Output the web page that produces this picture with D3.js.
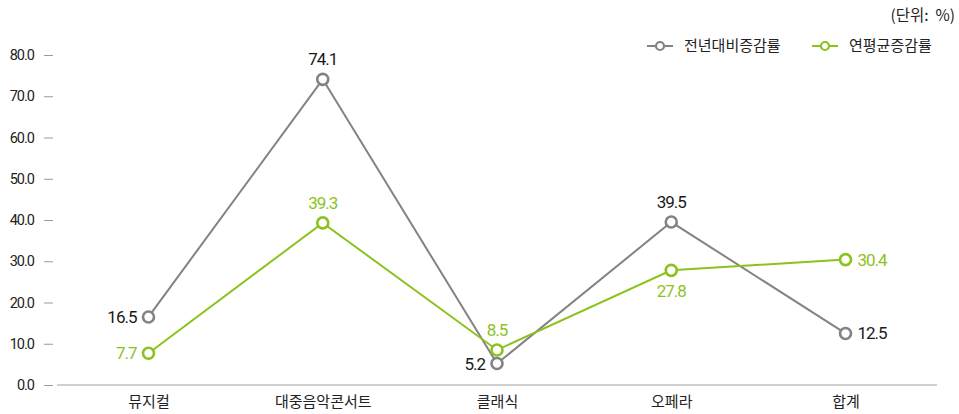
<!DOCTYPE html>
<html>
<head>
<meta charset="utf-8">
<script src="https://cdn.jsdelivr.net/npm/d3@7"></script>
<style>
  html, body { margin: 0; padding: 0; background: #fff; }
  svg text { font-family: "Roboto", "Noto Sans CJK KR", sans-serif; }
  .kr { font-family: "Noto Sans CJK KR", "Noto Sans", sans-serif; }
</style>
</head>
<body>
<svg id="chart" width="959" height="414"></svg>
<script>
// Categories and series
const categories = ["뮤지컬", "대중음악콘서트", "클래식", "오페라", "합계"];
const yoyChange = [16.5, 74.1, 5.2, 39.5, 12.5];      // 전년대비증감률
const cagrChange = [7.7, 39.3, 8.5, 27.8, 30.4];      // 연평균증감률
const seriesNames = ["전년대비증감률", "연평균증감률"];
const yTicks = [0, 10, 20, 30, 40, 50, 60, 70, 80];
const unitLabel = "(단위:  %)";

// Label placement per point: which side the value sits on
const yoyLabelPos = ["left", "top", "left", "top", "right"];
const cagrLabelPos = ["left", "top", "top", "bottom", "right"];

const GRAY = "#838383";
const GREEN = "#8cc21e";

const svg = d3.select("#chart");

const x = d3.scalePoint().domain(categories).range([57, 937]).padding(0.525);
const y = d3.scaleLinear().domain([0, 80]).range([385, 55]);

// y axis: labels with short dashes, no domain line
const yAxis = svg.append("g").attr("transform", "translate(53,0)")
  .call(d3.axisLeft(y).tickValues(yTicks).tickFormat(d3.format(".1f")).tickSize(9).tickPadding(10));
yAxis.select(".domain").remove();
yAxis.selectAll(".tick line").attr("stroke", "#9a9a9a").attr("stroke-width", 1);
yAxis.selectAll(".tick text")
  .attr("fill", "#222").style("font-size", "14.5px")
  .style("font-family", "Roboto, sans-serif").attr("letter-spacing", "-1");

// x baseline and category labels
const xAxis = svg.append("g").attr("transform", "translate(0,385)")
  .call(d3.axisBottom(x).tickSize(0).tickPadding(11));
xAxis.select(".domain").attr("d", "M57,0H937").attr("stroke", "#a0a0a0").attr("stroke-width", 1);
xAxis.selectAll(".tick text")
  .attr("class", "kr").attr("fill", "#222").style("font-size", "15px")
  .style("font-family", "'Noto Sans CJK KR', sans-serif");

const line = d3.line().x((d, i) => x(categories[i])).y(d => y(d));

function drawSeries(values, color, labelColor, positions) {
  const g = svg.append("g");
  g.append("path").datum(values)
    .attr("d", line).attr("fill", "none")
    .attr("stroke", color).attr("stroke-width", 2);
  g.selectAll("circle").data(values).join("circle")
    .attr("cx", (d, i) => x(categories[i])).attr("cy", d => y(d))
    .attr("r", 5.5).attr("fill", "#fff")
    .attr("stroke", color).attr("stroke-width", 2.6);
  g.selectAll("text").data(values).join("text")
    .attr("x", (d, i) => {
      const cx = x(categories[i]);
      const p = positions[i];
      return p === "left" ? cx - 12 : p === "right" ? cx + 12 : cx;
    })
    .attr("y", (d, i) => {
      const cy = y(d);
      const p = positions[i];
      return p === "top" ? cy - 14 : p === "bottom" ? cy + 27 : cy + 6;
    })
    .attr("text-anchor", (d, i) => positions[i] === "left" ? "end" : positions[i] === "right" ? "start" : "middle")
    .attr("fill", labelColor)
    .style("font-size", "17px").attr("letter-spacing", "-1")
    .text(d => d3.format(".1f")(d));
}

drawSeries(yoyChange, GRAY, "#1a1a1a", yoyLabelPos);
drawSeries(cagrChange, GREEN, GREEN, cagrLabelPos);

// Legend
const legend = svg.append("g");
const legendItems = [
  { name: seriesNames[0], color: GRAY, x: 647 },
  { name: seriesNames[1], color: GREEN, x: 812 }
];
legendItems.forEach(it => {
  const lg = legend.append("g").attr("transform", `translate(${it.x},46)`);
  lg.append("line").attr("x1", 0).attr("x2", 26).attr("y1", 0).attr("y2", 0)
    .attr("stroke", it.color).attr("stroke-width", 2);
  lg.append("circle").attr("cx", 13).attr("cy", 0).attr("r", 4)
    .attr("fill", "#fff").attr("stroke", it.color).attr("stroke-width", 2.2);
  lg.append("text").attr("class", "kr").attr("x", 37).attr("y", 5)
    .attr("fill", "#222").style("font-size", "15px")
    .text(it.name);
});

// Unit note
svg.append("text").attr("class", "kr")
  .attr("x", 955).attr("y", 21).attr("text-anchor", "end")
  .attr("fill", "#222").style("font-size", "15.5px")
  .style("white-space", "pre")
  .text(unitLabel);
</script>
</body>
</html>
